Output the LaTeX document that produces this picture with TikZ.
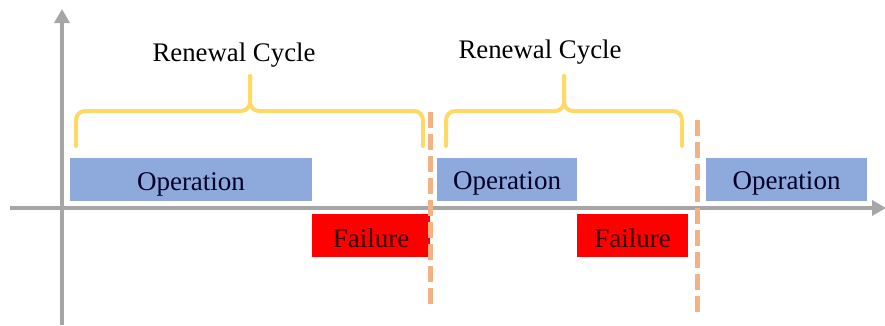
\documentclass[tikz,border=0pt]{standalone}
\usepackage{fontspec}
\setmainfont{Liberation Serif}
\usetikzlibrary{arrows.meta}
\definecolor{opblue}{HTML}{8EA9DB}
\definecolor{failred}{HTML}{FF0000}
\definecolor{braceyellow}{HTML}{FFD966}
\definecolor{dashorange}{HTML}{F4B183}
\definecolor{axisgray}{HTML}{A6A6A6}
\tikzset{
  axisline/.style={draw=axisgray, line width=4pt, -{Triangle[length=14pt,width=15pt]}},
  opbox/.style={fill=opblue, inner sep=0pt, minimum height=43pt, text height=21pt, text depth=0pt, text=black!85!blue, font=\rmfamily\fontsize{27}{30}\selectfont},
  failbox/.style={fill=failred, inner sep=0pt, minimum height=43pt, text height=23pt, text depth=0pt, font=\rmfamily\fontsize{27}{30}\selectfont, text=black!80!red},
  cyclelabel/.style={inner sep=0pt, anchor=base, font=\rmfamily\fontsize{26.8}{30}\selectfont},
  renewline/.style={draw=dashorange, line width=5pt, dash pattern=on 16pt off 6pt},
  bracepath/.style={draw=braceyellow, line width=4pt, rounded corners=9pt, line cap=round}
}
\begin{document}
\begin{tikzpicture}[x=1pt,y=-1pt]
\useasboundingbox (0,0) rectangle (885,325);
% axes
\coordinate (yb) at (62,325);
\coordinate (yt) at (62,9);
\coordinate (xl) at (10,208);
\coordinate (xr) at (886,208);
\draw[axisline] (yb) -- (yt);
\draw[axisline] (xl) -- (xr);
% boxes
\node[opbox, minimum width=242pt] (op1) at (191,179.5) {Operation};
\node[opbox, minimum width=140pt] (op2) at (507,179) {Operation};
\node[opbox, minimum width=161pt] (op3) at (786.5,179) {Operation};
\node[failbox, minimum width=118pt] (f1) at (371,235.5) {Failure};
\node[failbox, minimum width=111pt] (f2) at (632.5,235.5) {Failure};
% renewal lines
\coordinate (r1t) at (430,112);
\coordinate (r1b) at (430,308);
\coordinate (r2t) at (697,120);
\coordinate (r2b) at (697,314);
\draw[renewline] (r1t) -- (r1b);
\draw[renewline] (r2t) -- (r2b);
% braces
\coordinate (b1l) at (76,146);
\coordinate (b1r) at (423,146);
\coordinate (b1m) at (250,111);
\coordinate (b1p) at (250,76);
\draw[bracepath] (b1l) |- (b1m) -- (b1p);
\draw[bracepath] (b1r) |- (b1m) -- (b1p);
\coordinate (b2l) at (446,146);
\coordinate (b2r) at (682,146);
\coordinate (b2m) at (564,111);
\coordinate (b2p) at (564,76);
\draw[bracepath] (b2l) |- (b2m) -- (b2p);
\draw[bracepath] (b2r) |- (b2m) -- (b2p);
% labels
\node[cyclelabel] (c1) at (234,61) {Renewal Cycle};
\node[cyclelabel] (c2) at (540,58) {Renewal Cycle};
\end{tikzpicture}
\end{document}
